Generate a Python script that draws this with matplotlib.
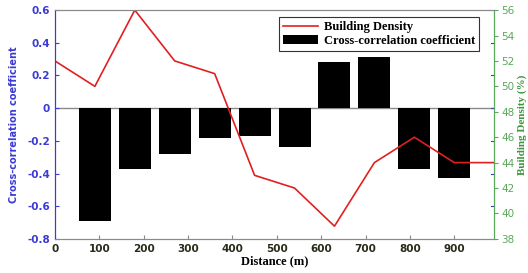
import matplotlib.pyplot as plt
import numpy as np

# data
bar_dist = [90, 180, 270, 360, 450, 540, 630, 720, 810, 900]
xcorr = [-0.69, -0.37, -0.28, -0.18, -0.17, -0.24, 0.28, 0.31, -0.37, -0.43]

line_dist = [0, 90, 180, 270, 360, 450, 540, 630, 720, 810, 900, 990]
density = [52, 50, 56, 52, 51, 43, 42, 39, 44, 46, 44, 44]

blue = '#3b3bd6'
green = '#5aa85a'
grey = '#8a8a8a'

fig = plt.figure(figsize=(5.28, 2.73), dpi=100)
ax1 = fig.add_axes([0.104, 0.125, 0.832, 0.838])
ax2 = ax1.twinx()

bars = ax1.bar(bar_dist, xcorr, width=72, color='black',
               label='Cross-correlation coefficient', zorder=2)
ax1.axhline(0, color=grey, lw=1.0, zorder=1)
line, = ax2.plot(line_dist, density, color='#e02020', lw=1.2,
                 label='Building Density')

ax1.set_xlim(0, 990)
ax1.set_ylim(-0.8, 0.6)
ax2.set_ylim(38, 56)
ax1.set_xticks(np.arange(0, 1000, 100))
ax1.set_yticks(np.arange(-0.8, 0.61, 0.2))
ax1.set_yticklabels(['-0.8', '-0.6', '-0.4', '-0.2', '0', '0.2', '0.4', '0.6'])
ax2.set_yticks(np.arange(38, 57, 2))

# spines
for a in (ax1, ax2):
    a.spines['top'].set_color(grey)
    a.spines['bottom'].set_color(grey)
    a.spines['left'].set_color(blue)
    a.spines['right'].set_color(green)

ax1.tick_params(axis='y', colors=blue, direction='in', length=3,
                labelsize=7.5, right=False)
ax1.tick_params(axis='x', direction='in', length=3, labelsize=7.5,
                colors=grey, labelcolor='#2a2a1a')
ax2.tick_params(axis='y', colors=green, direction='out', length=3,
                labelsize=7.5, pad=2)
for lab in ax1.get_xticklabels() + ax1.get_yticklabels():
    lab.set_fontweight('bold')

# mirrored blue ticks of the left scale on the right spine
for v in np.arange(-0.6, 0.6, 0.2):
    ax1.plot([990 - 8, 990], [v, v], color=blue, lw=0.8, clip_on=False)

ax1.set_xlabel('Distance (m)', family='Liberation Serif', fontweight='bold',
               fontsize=9, labelpad=1)
ax1.set_ylabel('Cross-correlation coefficient',
               family=['Liberation Sans Narrow', 'DejaVu Sans'],
               fontweight='bold', fontsize=7, color=blue, labelpad=6)
ax2.set_ylabel('Building Density (%)', family='Liberation Serif',
               fontweight='bold', fontsize=8, color='#3c963c', labelpad=2)

leg = ax2.legend([line, bars], ['Building Density', 'Cross-correlation coefficient'],
                 loc='upper right', bbox_to_anchor=(0.98, 0.995),
                 prop={'family': 'Liberation Serif', 'weight': 'bold', 'size': 9},
                 fancybox=False, edgecolor='#333333', framealpha=1,
                 handlelength=2.8, handletextpad=0.5, borderpad=0.3,
                 labelspacing=0.15)
leg.get_frame().set_linewidth(0.8)

fig.savefig('out.png', dpi=100)
